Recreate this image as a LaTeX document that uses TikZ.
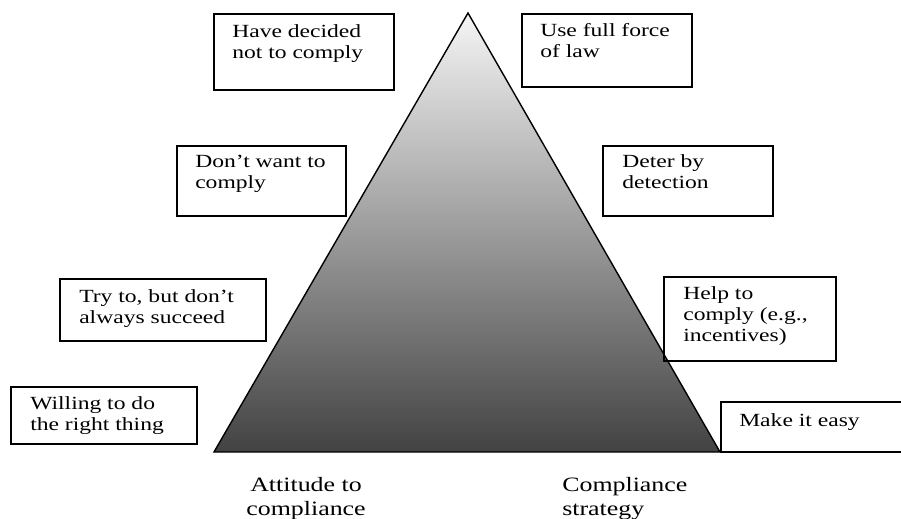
\documentclass[tikz,border=0pt]{standalone}
\usepackage{fontspec}
\setmainfont[FakeStretch=1.27]{Liberation Serif}
\usetikzlibrary{positioning,fit}

\begin{document}
\begin{tikzpicture}[x=0.025cm,y=-0.025cm,
	box/.style={draw,line width=0.8pt,inner sep=0pt},
	boxtext/.style={inner sep=0pt,anchor=base west,align=left,font=\fontsize{13.2}{15.2}\selectfont},
	sidelabel/.style={inner sep=0pt,anchor=base,font=\fontsize{14.5}{16.5}\selectfont}]
	\useasboundingbox (0,0) rectangle (901,519);
	% the pyramid
	\coordinate (apex) at (468,13);
	\coordinate (baseL) at (214,452);
	\coordinate (baseR) at (720,452);
	\shade[top color=black!4,bottom color=black!74] (apex) -- (baseL) -- (baseR) -- cycle;
	\draw[line width=1pt,line join=miter] (apex) -- (baseL) -- (baseR) -- cycle;
	% attitudes (left), text placed at the baseline of its last line
	\node[box,fit={(214,14) (394,90)}] (decided) {};
	\node[boxtext] (decidedtxt) at (232,58.4) {Have decided\\not to comply};
	\node[box,fit={(177,146) (346,216)}] (dontwant) {};
	\node[boxtext] (dontwanttxt) at (195,188.4) {Don't want to\\comply};
	\node[box,fit={(60,279) (266,341)}] (tryto) {};
	\node[boxtext] (trytotxt) at (79,323.4) {Try to, but don't\\always succeed};
	\node[box,fit={(11,387) (197,444)}] (willing) {};
	\node[boxtext] (willingtxt) at (30,430.4) {Willing to do\\the right thing};
	% strategies (right)
	\node[box,fit={(522,14) (692,87)}] (force) {};
	\node[boxtext] (forcetxt) at (540,57.4) {Use full force\\of law};
	\node[box,fit={(603,146) (773,216)}] (deter) {};
	\node[boxtext] (detertxt) at (622,188.4) {Deter by\\detection};
	\node[box,fit={(664,277) (836,361)}] (help) {};
	\node[boxtext] (helptxt) at (683,341.8) {Help to\\comply (e.g.,\\incentives)};
	\node[box,fit={(721,402) (910,452)}] (easy) {};
	\node[boxtext] (easytxt) at (739,426) {Make it easy};
	% axis labels
	\node[sidelabel,align=center] (attitude) at (306,515) {Attitude to\\compliance};
	\node[sidelabel,align=left,anchor=base west] (strategy) at (562,515) {Compliance\\strategy};
\end{tikzpicture}
\end{document}
